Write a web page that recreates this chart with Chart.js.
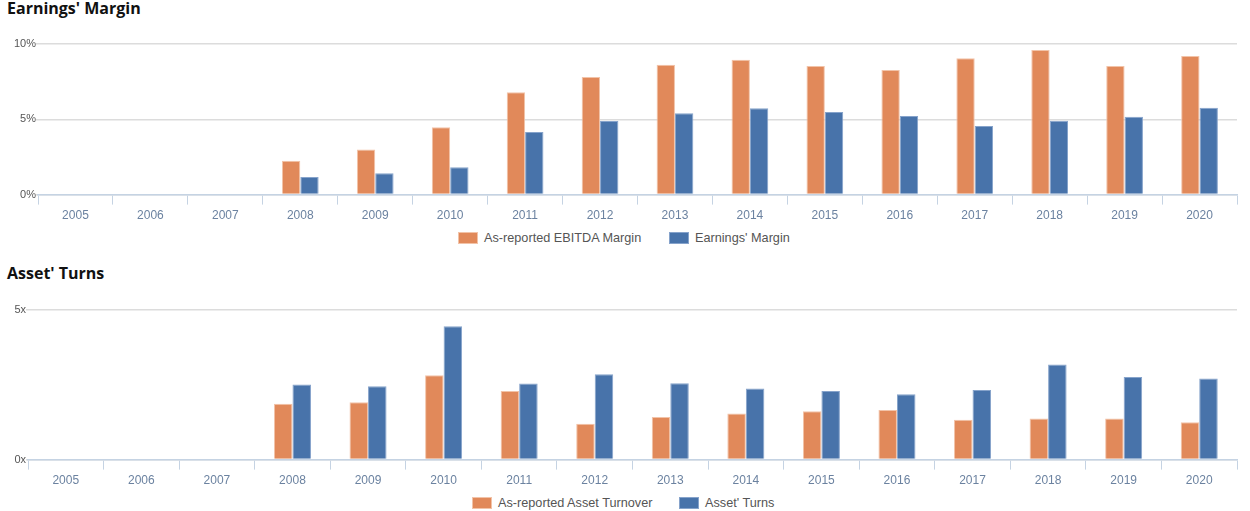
<!DOCTYPE html>
<html>
<head>
<meta charset="utf-8">
<script src="https://cdn.jsdelivr.net/npm/chart.js@4"></script>
<style>
  body { margin: 0; background: #fff; width: 1250px; height: 511px; position: relative; overflow: hidden; }
  .title { position: absolute; left: 7px; font: bold 16px "Open Sans", sans-serif; color: #111; }
  .box { position: absolute; left: 0; width: 1250px; }
  .legend { position: absolute; height: 14px; font: 12.7px "Liberation Sans", Arial, sans-serif; color: #555; white-space: nowrap; }
  .legend span { position: absolute; top: 0; line-height: 14px; }
  .legend i { position: absolute; top: 1px; width: 20px; height: 12px; box-sizing: border-box; border: 1px solid; }
</style>
</head>
<body>
<div class="title" style="top:-3px">Earnings' Margin</div>
<div class="box" style="top:28px;height:199px"><canvas id="margin-chart"></canvas></div>
<div class="legend" id="margin-legend" style="top:231px;left:0;width:1250px"></div>
<div class="title" style="top:262px">Asset' Turns</div>
<div class="box" style="top:294px;height:198px"><canvas id="turns-chart"></canvas></div>
<div class="legend" id="turns-legend" style="top:496px;left:0;width:1250px"></div>
<script>
// Categorias (anos)
const years = ['2005', '2006', '2007', '2008', '2009', '2010', '2011', '2012', '2013', '2014', '2015', '2016', '2017', '2018', '2019', '2020']

// Margens (%)
const ebitdaMargin = [null, null, null, 2.24, 2.99, 4.47, 6.79, 7.81, 8.63, 8.96, 8.54, 8.27, 9.05, 9.6, 8.54, 9.2]
const earningsMargin = [null, null, null, 1.17, 1.42, 1.82, 4.16, 4.89, 5.4, 5.73, 5.49, 5.22, 4.56, 4.9, 5.17, 5.76]

// Giro de ativos (x)
const assetTurnover = [null, null, null, 1.87, 1.92, 2.82, 2.29, 1.2, 1.42, 1.54, 1.62, 1.66, 1.33, 1.37, 1.37, 1.25]
const assetTurns = [null, null, null, 2.51, 2.45, 4.46, 2.54, 2.85, 2.55, 2.38, 2.29, 2.18, 2.33, 3.18, 2.76, 2.71]

// Ticks do eixo Y
const marginTicks = [0, 5, 10]
const turnsTicks = [0, 5]

const ORANGE = '#e1895a'
const ORANGE_EDGE = '#f2c3a8'
const BLUE = '#4873aa'
const BLUE_EDGE = '#86a3cb'
const AXIS = '#c5d3e3'

function createBarChart(canvas, labels, series, ticks, suffix, yWidth) {
  return new Chart(canvas.getContext('2d'), {
    type: 'bar',
    data: {
      labels: labels,
      datasets: series.map(function(s) {
        return {
          label: s.label,
          data: s.data,
          backgroundColor: s.color,
          borderColor: s.edge,
          borderWidth: 1,
          barPercentage: 1,
          categoryPercentage: 0.49
        }
      })
    },
    options: {
      responsive: true,
      maintainAspectRatio: false,
      animation: false,
      layout: { padding: { top: 16, right: 13, left: 0, bottom: 0 } },
      plugins: {
        legend: { display: false },
        tooltip: { enabled: false }
      },
      scales: {
        x: {
          grid: {
            offset: true,
            drawOnChartArea: false,
            color: AXIS,
            tickLength: 10
          },
          border: { color: AXIS, width: 1.5 },
          ticks: {
            color: '#6b82a0',
            padding: 4,
            font: { family: 'Liberation Sans, Arial, sans-serif', size: 12 }
          }
        },
        y: {
          min: ticks[0],
          max: ticks[ticks.length - 1],
          afterBuildTicks: function(axis) {
            axis.ticks = ticks.map(function(v) { return { value: v } })
          },
          afterFit: function(axis) { axis.width = yWidth },
          grid: { color: '#dcdcdc', lineWidth: 1.5, tickLength: 2 },
          border: { display: false },
          ticks: {
            color: '#555',
            padding: 0,
            font: { family: 'Liberation Sans, Arial, sans-serif', size: 11 },
            callback: function(v) { return v + suffix }
          }
        }
      }
    }
  })
}

// Legenda em HTML (centrada como no original)
function buildLegend(el, series, positions) {
  series.forEach(function(s, i) {
    const box = document.createElement('i')
    box.style.left = positions[i] + 'px'
    box.style.background = s.color
    box.style.borderColor = s.edge
    const txt = document.createElement('span')
    txt.style.left = (positions[i] + 26) + 'px'
    txt.textContent = s.label
    el.appendChild(box)
    el.appendChild(txt)
  })
}

const marginSeries = [
  { label: 'As-reported EBITDA Margin', data: ebitdaMargin, color: ORANGE, edge: ORANGE_EDGE },
  { label: "Earnings' Margin", data: earningsMargin, color: BLUE, edge: BLUE_EDGE }
]
const turnsSeries = [
  { label: 'As-reported Asset Turnover', data: assetTurnover, color: ORANGE, edge: ORANGE_EDGE },
  { label: "Asset' Turns", data: assetTurns, color: BLUE, edge: BLUE_EDGE }
]

createBarChart(document.getElementById('margin-chart'), years, marginSeries, marginTicks, '%', 38)
createBarChart(document.getElementById('turns-chart'), years, turnsSeries, turnsTicks, 'x', 28)

buildLegend(document.getElementById('margin-legend'), marginSeries, [458, 669])
buildLegend(document.getElementById('turns-legend'), turnsSeries, [472, 679])
</script>
</body>
</html>
